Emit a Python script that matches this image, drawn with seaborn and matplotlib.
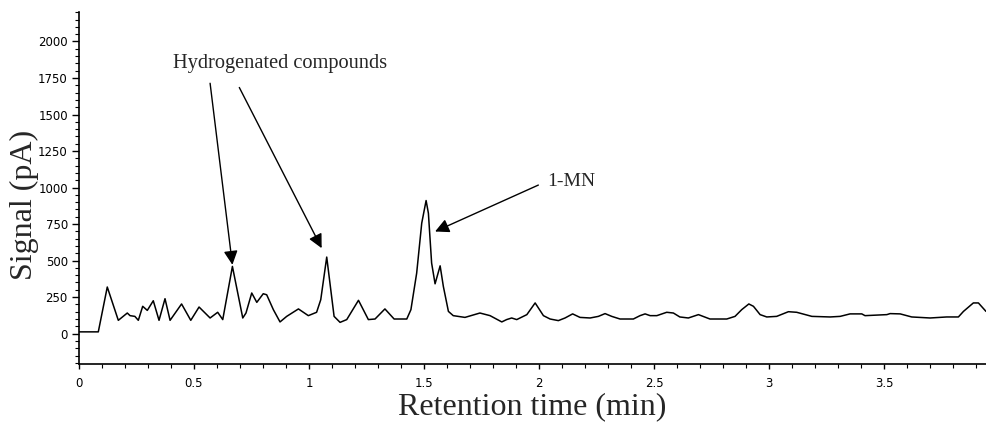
import matplotlib
matplotlib.use("Agg")
import matplotlib.pyplot as plt
import seaborn as sns
import pandas as pd
from matplotlib.ticker import MultipleLocator, FuncFormatter

# ---- data ----
time_min = [0.0, 0.084, 0.123, 0.171, 0.21, 0.222, 0.243, 0.258, 0.277, 0.297,
            0.323, 0.348, 0.374, 0.396, 0.446, 0.486, 0.522, 0.570, 0.603, 0.625,
            0.667, 0.712, 0.726, 0.751, 0.773, 0.801, 0.816, 0.845, 0.874, 0.903,
            0.954, 0.997, 1.033, 1.051, 1.077, 1.091, 1.109, 1.135, 1.164, 1.215,
            1.258, 1.287, 1.330, 1.370, 1.425, 1.443, 1.468, 1.490, 1.509, 1.519,
            1.533, 1.548, 1.570, 1.584, 1.606, 1.627, 1.678, 1.743, 1.787, 1.838,
            1.859, 1.881, 1.903, 1.947, 1.983, 2.019, 2.048, 2.084, 2.113, 2.146,
            2.178, 2.222, 2.258, 2.287, 2.316, 2.352, 2.410, 2.439, 2.461, 2.483,
            2.512, 2.555, 2.584, 2.612, 2.649, 2.693, 2.743, 2.816, 2.852, 2.881,
            2.912, 2.932, 2.961, 2.990, 3.033, 3.084, 3.120, 3.186, 3.265, 3.309,
            3.352, 3.403, 3.417, 3.512, 3.526, 3.570, 3.620, 3.700, 3.772, 3.823,
            3.845, 3.888, 3.910, 3.943]
signal_pA = [12, 12, 319, 91, 141, 123, 118, 91, 187, 159,
             225, 91, 239, 91, 203, 91, 182, 107, 146, 96,
             460, 107, 141, 278, 214, 273, 266, 164, 80, 118,
             169, 123, 146, 232, 524, 346, 118, 77, 96, 228,
             96, 100, 169, 100, 100, 164, 414, 756, 911, 824,
             483, 341, 464, 323, 152, 123, 111, 141, 123, 80,
             96, 107, 96, 130, 210, 123, 100, 89, 107, 135,
             111, 107, 118, 137, 118, 100, 100, 123, 135, 123,
             123, 146, 141, 114, 107, 130, 100, 100, 118, 164,
             203, 187, 130, 114, 118, 150, 146, 118, 114, 118,
             135, 135, 123, 130, 137, 135, 114, 107, 114, 114,
             152, 210, 210, 152]

y_ticks = [0, 250, 500, 750, 1000, 1250, 1500, 1750, 2000]
x_ticks = [0, 0.5, 1, 1.5, 2, 2.5, 3, 3.5]

label_hydro = "Hydrogenated compounds"
label_mn = "1-MN"

sns.set_style("ticks")
plt.rcParams['font.family'] = ['DejaVu Sans']

df = pd.DataFrame({"t": time_min, "s": signal_pA})

fig = plt.figure(figsize=(9.86, 4.23), dpi=100)
ax = fig.add_axes([0.0801, 0.1388, 0.9199, 0.8322])

sns.lineplot(data=df, x="t", y="s", ax=ax, color="black", linewidth=1.1,
             estimator=None, sort=False)

ax.set_xlim(0, 3.943)
ax.set_ylim(-210, 2200)
ax.set_xticks(x_ticks)
ax.set_yticks(y_ticks)
ax.xaxis.set_minor_locator(MultipleLocator(0.1))
ax.yaxis.set_minor_locator(MultipleLocator(50))
ax.xaxis.set_major_formatter(FuncFormatter(lambda v, p: "%g" % v))
ax.yaxis.set_major_formatter(FuncFormatter(lambda v, p: "%d" % v))

for side in ("top", "right"):
    ax.spines[side].set_visible(False)
for side in ("left", "bottom"):
    ax.spines[side].set_linewidth(1.2)
    ax.spines[side].set_color("black")

ax.tick_params(axis="both", which="major", direction="out", length=5, width=1.0,
               labelsize=8.5, colors="black", pad=3)
ax.tick_params(axis="both", which="minor", direction="out", length=3, width=0.8,
               colors="black")
ax.tick_params(axis="x", which="major", length=3.5, pad=6)

serif = ['Liberation Serif', 'DejaVu Serif']
ax.set_xlabel("Retention time (min)", fontsize=23, family=serif)
ax.set_ylabel("Signal (pA)", fontsize=23, family=serif)
ax.xaxis.set_label_coords(0.4995, -0.08)
ax.yaxis.set_label_coords(-0.044, 0.4526)

arrow = dict(arrowstyle="-|>,head_length=0.6,head_width=0.3", color="black",
             lw=1.0, shrinkA=0, shrinkB=0, mutation_scale=14)
ax.text(0.409, 1847, label_hydro, family=serif, fontsize=14.7,
        ha="left", va="center")
ax.annotate("", xy=(0.667, 471), xytext=(0.570, 1714), arrowprops=arrow)
ax.annotate("", xy=(1.055, 585), xytext=(0.697, 1685), arrowprops=arrow)
ax.text(2.035, 1038, label_mn, family=serif, fontsize=14, ha="left", va="center")
ax.annotate("", xy=(1.548, 699), xytext=(1.997, 1017), arrowprops=arrow)

fig.savefig("out.png", dpi=100, facecolor="white")
